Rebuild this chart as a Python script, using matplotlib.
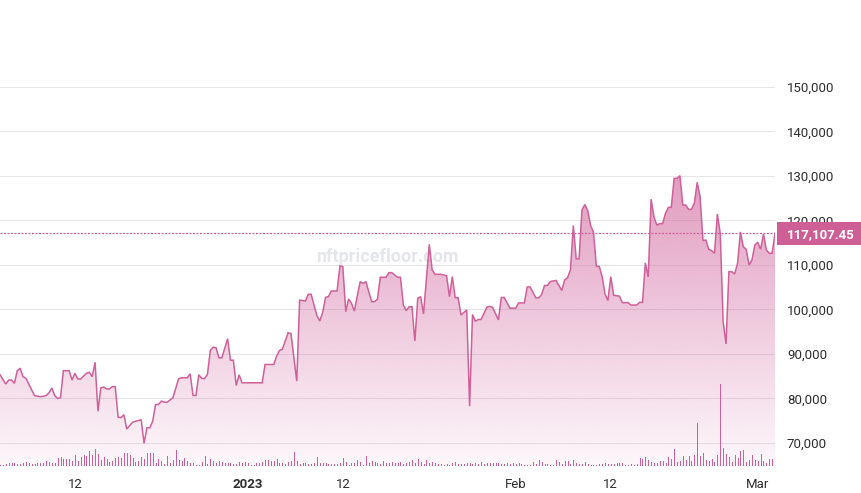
#!/usr/bin/env python3
"""
Floor price chart (nftpricefloor.com style) - area line + volume bars.
"""

import numpy as np
import pandas as pd
import matplotlib
matplotlib.use("Agg")
import matplotlib.pyplot as plt
import matplotlib.dates as mdates
from matplotlib.patches import Rectangle

plt.rcParams["font.family"] = ["Roboto", "DejaVu Sans"]

START = pd.Timestamp("2022-12-03 08:00")
STEP_HOURS = 8

# --- Data -----------------------------------------------------------

# line vertices: step number (8h candles from START) and floor price
line_step = [
    0, 2, 3, 4, 5, 6, 7, 8, 9, 12, 14, 16, 17, 18, 19, 20, 21, 22, 24, 25,
    26, 27, 28, 30, 31, 32, 33, 34, 35, 36, 37, 38, 39, 40, 41, 42, 43, 44, 46, 47,
    49, 50, 51, 52, 53, 54, 55, 56, 57, 58, 60, 62, 63, 65, 66, 67, 68, 69, 70, 71,
    72, 73, 74, 75, 76, 77, 79, 80, 81, 82, 83, 84, 91, 92, 95, 96, 97, 98, 100, 101,
    103, 104, 106, 107, 108, 110, 111, 112, 113, 114, 115, 117, 118, 119, 120, 121, 122, 123, 125, 126,
    127, 129, 130, 131, 132, 134, 135, 136, 138, 139, 140, 141, 142, 143, 144, 145, 146, 147, 149, 150,
    151, 153, 155, 156, 157, 158, 159, 160, 162, 163, 164, 165, 166, 167, 169, 170, 171, 173, 174, 175,
    177, 179, 180, 182, 183, 184, 186, 187, 188, 189, 190, 191, 193, 195, 196, 197, 198, 199, 200, 201,
    202, 203, 204, 205, 206, 207, 208, 209, 210, 211, 212, 213, 215, 216, 218, 219, 221, 222, 223, 224,
    225, 226, 227, 228, 229, 230, 231, 232, 233, 234, 235, 236, 237, 238, 239, 240, 241, 242, 243, 244,
    245, 246, 247, 248, 249, 250, 251, 252, 253, 254, 255, 256, 257, 258, 259, 260, 261, 262, 263, 264,
    265, 266, 267, 268, 269,
]
line_price = [
    85350, 83260, 84150, 84150, 83400, 86250, 86800, 84900, 84540, 80630,
    80400, 80630, 81300, 82360, 80630, 80000, 80200, 86250, 86250, 84150,
    85660, 84380, 84380, 85660, 85890, 84900, 88130, 77120, 82360, 82580,
    82140, 82140, 82660, 82660, 75780, 75700, 76360, 73150, 74650, 74870,
    75240, 69930, 73420, 73420, 74900, 78650, 78650, 79400, 79170, 79170,
    80150, 84430, 84650, 84650, 85550, 80680, 80680, 85320, 84500, 84500,
    85400, 90790, 91530, 91400, 89150, 89150, 93420, 88600, 88600, 82920,
    85320, 83530, 83530, 87640, 87640, 89510, 90790, 91030, 94760, 94600,
    83900, 102100, 101910, 103410, 103410, 98610, 97420, 99370, 102740, 102890,
    104160, 104160, 109850, 109620, 99510, 102360, 101390, 99660, 106250, 105870,
    106250, 101760, 101760, 102290, 107240, 107240, 108280, 108280, 107240, 107240,
    101010, 99730, 100620, 100620, 92920, 102510, 102890, 98990, 114650, 108880,
    107910, 107910, 107600, 102890, 107380, 102660, 102660, 98770, 99900, 78270,
    98880, 97380, 97750, 97750, 100550, 100700, 100450, 97650, 102700, 102700,
    100300, 100300, 101480, 101480, 105070, 105070, 102620, 102620, 103370, 105390,
    105390, 106290, 106520, 104270, 106670, 107120, 108920, 118880, 111390, 111390,
    122400, 123600, 122250, 118880, 117380, 109660, 109700, 107400, 103500, 102000,
    107400, 103200, 103000, 101540, 101540, 101000, 101000, 101600, 101600, 110450,
    107320, 124800, 120800, 118950, 119300, 119300, 121630, 122960, 122960, 129480,
    129480, 130070, 123480, 123480, 122510, 122510, 123860, 128580, 125350, 115470,
    115620, 113530, 113210, 112630, 121460, 117120, 97260, 92250, 108500, 108500,
    107980, 110380, 117420, 114110, 113530, 110000, 111120, 114500, 115100, 113530,
    116970, 113370, 112630, 112630, 117107.45,
]

# volume per 8h candle (relative units), steps 0..268
volume = [
    1, 1, 2.3, 3, 3, 3, 2, 2, 3, 3.7,
    3, 2, 2.3, 3, 3, 3, 4.7, 4, 3, 3,
    7.7, 9, 7, 7, 7.3, 5.3, 11, 5.3, 9, 10.7,
    10, 15, 10.7, 17, 12, 6, 9, 6.7, 4.3, 5.3,
    8, 9, 8.3, 13, 13, 11, 8, 4.3, 5, 9,
    7.3, 13, 13, 13, 3, 7, 4.7, 2, 10, 3,
    6.3, 16, 6, 5.3, 8, 5.3, 3.3, 3, 1, 1,
    4.3, 10, 2, 7.3, 5, 3.3, 4.7, 3.7, 3, 3,
    3, 2, 1.7, 4, 3, 3.7, 3, 1.3, 1.3, 3,
    3, 4, 6, 6, 5, 5.3, 7, 3, 3, 2,
    4.3, 5, 14, 5, 2, 3, 3, 2, 2, 3,
    9, 3, 3, 3, 2, 2, 2, 2, 3, 8,
    4, 1, 3, 3, 6, 4, 1, 10, 3, 5,
    4, 3, 2, 5, 3, 3, 4, 3, 3, 4,
    2, 3, 4, 6, 3, 7, 4, 2, 6, 3,
    4, 3, 2, 2, 1, 2, 1, 3, 4, 2,
    2, 2, 3, 3, 2, 3, 2, 4, 2, 3,
    3, 3, 3, 3, 2, 2, 3, 2, 3, 2,
    3, 2, 1, 1, 1, 4, 2, 6, 4,
    2, 2, 1, 1, 6, 4, 2, 5, 5, 2,
    6, 3, 2, 2, 4, 2, 1, 1, 1, 2,
    2, 3, 2, 2, 2, 3, 3, 3, 1, 1,
    2, 1, 2, 8, 7.3, 9.3, 6.3, 4, 3, 3,
    5, 5, 3, 9, 7, 17, 4.3, 5, 10, 6.3,
    10, 5.3, 11, 43, 10, 13, 6, 5, 7, 4,
    11, 82, 18, 12, 9, 4, 11, 8, 15, 16,
    4, 6, 11, 6, 5.3, 12, 5, 3.3, 7.3, 7.3,
]

price_ticks = [70000, 80000, 90000, 100000, 110000, 120000, 130000, 140000, 150000]
date_ticks = ["2022-12-12", "2023-01-01", "2023-01-12", "2023-02-01", "2023-02-12", "2023-03-01"]
date_labels = ["12", "2023", "12", "Feb", "12", "Mar"]
watermark = "nftpricefloor.com"

PINK = "#d0609a"
TEXT = "#2e2e2e"


# --- Helpers --------------------------------------------------------

def step_to_num(steps):
    ts = START + pd.to_timedelta(np.asarray(steps) * STEP_HOURS, unit="h")
    return mdates.date2num(ts.to_pydatetime())


# --- Plot -----------------------------------------------------------

def main():
    W, H = 861, 493
    fig = plt.figure(figsize=(W / 100, H / 100), dpi=100)
    ax = fig.add_axes([0, 27 / H, 775 / W, 466 / H])

    x = step_to_num(line_step)
    y = np.array(line_price, dtype=float)
    last = line_price[-1]

    ylo, yhi = 64830, 169550
    ax.set_ylim(ylo, yhi)
    ax.set_xlim(x[0], x[-1])

    # gradient area below the line
    poly = ax.fill_between(x, y, ylo, facecolor="none", edgecolor="none")
    rgb = matplotlib.colors.to_rgb(PINK)
    n = 256
    grad = np.zeros((n, 1, 4))
    grad[:, 0, :3] = rgb
    grad[:, 0, 3] = np.linspace(0.05, 0.62, n)
    im = ax.imshow(grad, extent=[x[0], x[-1], ylo, y.max()], origin="lower",
                   aspect="auto", zorder=1, interpolation="bilinear")
    im.set_clip_path(poly.get_paths()[0], transform=ax.transData)

    ax.plot(x, y, color=PINK, lw=1.1, zorder=3, solid_joinstyle="miter")

    # last price dotted line
    ax.axhline(last, color=PINK, lw=0.9, ls=(0, (1.6, 1.2)), zorder=3)

    # watermark
    ax.text(0.5, 1 - 262 / 466, watermark, transform=ax.transAxes, ha="center",
            va="baseline", fontsize=13, fontweight="bold", color="#e4e6e9", zorder=0.8)

    # grid / axes styling
    ax.set_yticks(price_ticks)
    ax.set_yticklabels([f"{v:,}" for v in price_ticks])
    ax.yaxis.tick_right()
    ax.grid(axis="y", color="#e6e6e6", lw=0.75, zorder=0.5)
    ax.set_axisbelow(True)
    ax.tick_params(axis="y", length=0, pad=8.6, labelsize=9.5, labelcolor=TEXT)

    tick_x = mdates.date2num(pd.to_datetime(date_ticks).to_pydatetime())
    ax.set_xticks(tick_x)
    ax.set_xticklabels(date_labels)
    ax.tick_params(axis="x", length=0, pad=9, labelsize=9.5, labelcolor=TEXT)
    for lbl in ax.get_xticklabels():
        if lbl.get_text() == "2023":
            lbl.set_fontweight("bold")
    for s in ax.spines.values():
        s.set_visible(False)

    # volume bars on overlay axes (1px wide, crisp)
    axv = fig.add_axes(ax.get_position(), sharex=ax)
    axv.patch.set_visible(False)
    axv.axis("off")
    xv = step_to_num(range(len(volume)))
    axv.vlines(xv, 0, volume, colors=PINK, lw=0.5, antialiased=False, zorder=2)
    axv.set_ylim(0, max(volume) / 0.176)
    axv.set_xlim(x[0], x[-1])

    # price label box on the right scale
    ypix = ax.transData.transform((x[0], last))[1]
    inv = fig.transFigure.inverted()
    (bx0, by0) = inv.transform((776.5, ypix - 11.5))
    (bx1, by1) = inv.transform((W, ypix + 11.5))
    fig.add_artist(Rectangle((bx0, by0), bx1 - bx0, by1 - by0,
                             transform=fig.transFigure, facecolor="#cd5f96",
                             edgecolor="none"))
    fig.text((bx0 + bx1) / 2 + 1.5 / W, (by0 + by1) / 2, f"{last:,.2f}",
             ha="center", va="center_baseline", color="white",
             fontsize=9.5, fontweight="bold")

    fig.savefig("out.png", dpi=100)
    plt.close(fig)


if __name__ == "__main__":
    main()
